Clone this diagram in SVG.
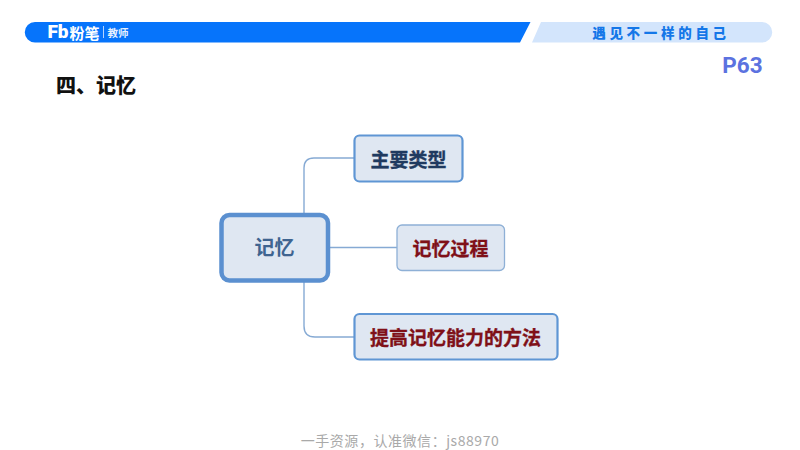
<svg xmlns="http://www.w3.org/2000/svg" width="800" height="450" viewBox="0 0 800 450">
<style>
text{font-family:"Noto Sans CJK SC","Noto Sans",sans-serif;text-anchor:middle}
.node{fill:#dfe7f2}
.lab{font-size:19px;font-weight:700;stroke-width:.35px}
.red{fill:#7f1018;stroke:#7f1018}
.navy{fill:#1f3a60;stroke:#1f3a60}
.conn{fill:none;stroke:#86aad4;stroke-width:1.4}
</style>
<rect width="800" height="450" fill="#fff"/>
<g id="banner">
<path d="M35 22H530.500L520 42.500H35A10.250 10.250 0 0 1 35 22Z" fill="#0674fb"/>
<path d="M541 22H762A10.250 10.250 0 0 1 762 42.500H532Z" fill="#d3e5fc"/>
<text x="58" y="38" style="font-family:'Roboto',sans-serif;font-size:19px;font-weight:900" fill="#fff">Fb</text>
<text x="84.500" y="38.500" style="font-size:15px;font-weight:700" fill="#fff">粉笔</text>
<rect x="103" y="26" width="1" height="12" fill="#b5d4fd"/>
<text x="118" y="37" style="font-size:10.500px;font-weight:700" fill="#e8f1fe">教师</text>
<text x="661" y="37.500" style="font-size:13.500px;font-weight:900;letter-spacing:3.700px" fill="#1477e8">遇见不一样的自己</text>
</g>
<text x="742.500" y="72.500" style="font-family:'Roboto',sans-serif;font-size:22.500px;font-weight:700" fill="#5b72e0">P63</text>
<text x="96" y="93" style="font-size:20px;font-weight:900" fill="#111">四、记忆</text>
<g id="connectors">
<path class="conn" d="M304 213V168Q304 158 314 158H354"/>
<path class="conn" d="M330 247.500H397"/>
<path class="conn" d="M304 282V326Q304 337 315 337H354"/>
</g>
<g id="root">
<rect class="node" x="221.500" y="215" width="106.500" height="65.500" rx="8" style="stroke:#5b90d0;stroke-width:4.500"/>
<text x="274.500" y="255" style="font-size:20px;font-weight:700" fill="#3f6490">记忆</text>
</g>
<g id="n1">
<rect class="node" x="354.500" y="135.500" width="108" height="46" rx="5" style="stroke:#5f96d4;stroke-width:2.200"/>
<text class="lab navy" x="408.500" y="166.500">主要类型</text>
</g>
<g id="n2">
<rect class="node" x="397" y="225" width="107.500" height="45.500" rx="5" style="stroke:#8eb0d6;stroke-width:1.300"/>
<text class="lab red" x="450.500" y="256">记忆过程</text>
</g>
<g id="n3">
<rect class="node" x="354.500" y="314" width="203" height="45.500" rx="5" style="stroke:#5f96d4;stroke-width:2.200"/>
<text class="lab red" x="455.500" y="345">提高记忆能力的方法</text>
</g>
<text x="400" y="446" style="font-size:14px;letter-spacing:.55px" fill="#a9a9a9">一手资源，认准微信：js88970</text>
</svg>
